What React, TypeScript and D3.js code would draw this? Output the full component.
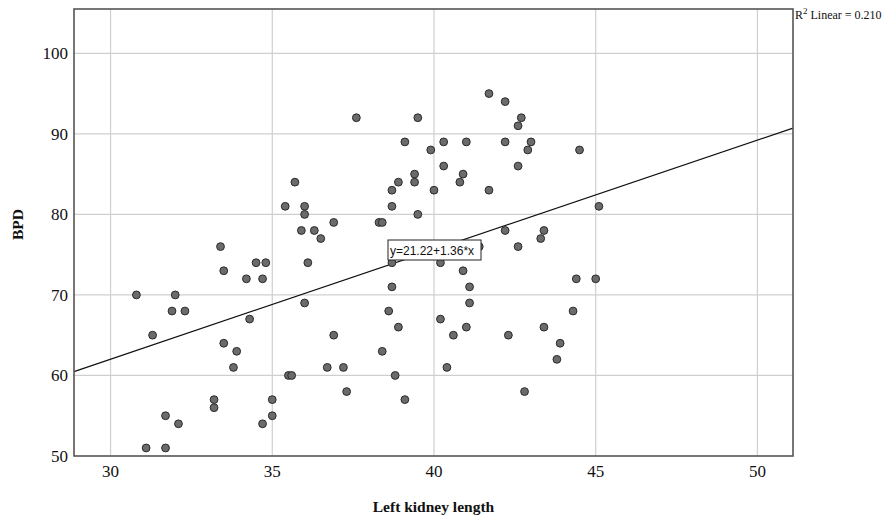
import React, { useEffect, useRef } from "react";
import * as d3 from "d3";

const leftKidneyLength: number[] = [
  30.8, 31.1, 31.3, 31.7, 31.7, 31.9, 32.0, 32.1, 32.3, 33.2, 33.2, 33.4, 33.5, 33.5, 33.8, 33.9,
  34.2, 34.3, 34.5, 34.7, 34.7, 34.8, 35.0, 35.0, 35.4, 35.5, 35.6, 35.7, 35.9, 36.0, 36.0, 36.0,
  36.1, 36.3, 36.5, 36.7, 36.9, 36.9, 37.2, 37.3, 37.6, 38.3, 38.4, 38.4, 38.6, 38.7, 38.7, 38.7,
  38.7, 38.8, 38.9, 38.9, 39.1, 39.1, 39.4, 39.4, 39.5, 39.5, 39.9, 40.0, 40.2, 40.2, 40.3, 40.3,
  40.4, 40.6, 40.8, 40.9, 40.9, 41.0, 41.0, 41.1, 41.1, 41.4, 41.7, 41.7, 42.2, 42.2, 42.2, 42.3,
  42.6, 42.6, 42.6, 42.7, 42.8, 42.9, 43.0, 43.3, 43.4, 43.4, 43.8, 43.9, 44.3, 44.4, 44.5, 45.0,
  45.1,
];
const bpd: number[] = [
  70, 51, 65, 55, 51, 68, 70, 54, 68, 57, 56, 76, 73, 64, 61, 63,
  72, 67, 74, 72, 54, 74, 57, 55, 81, 60, 60, 84, 78, 81, 80, 69,
  74, 78, 77, 61, 79, 65, 61, 58, 92, 79, 79, 63, 68, 83, 81, 74,
  71, 60, 84, 66, 89, 57, 85, 84, 92, 80, 88, 83, 74, 67, 89, 86,
  61, 65, 84, 73, 85, 89, 66, 71, 69, 76, 95, 83, 94, 89, 78, 65,
  91, 86, 76, 92, 58, 88, 89, 77, 78, 66, 62, 64, 68, 72, 88, 72,
  81,
];
const xTicks: number[] = [30, 35, 40, 45, 50];
const yTicks: number[] = [50, 60, 70, 80, 90, 100];
const fitIntercept = 21.22;
const fitSlope = 1.36;
const rSquared = "0.210";

const W = 887;
const H = 520;
const plot = { left: 74, right: 793, top: 9, bottom: 456 };

export default function App() {
  const ref = useRef<SVGSVGElement | null>(null);

  useEffect(() => {
    const svg = d3.select(ref.current);
    svg.selectAll("*").remove();

    const x = d3.scaleLinear().domain([28.87, 51.1]).range([plot.left, plot.right]);
    const y = d3.scaleLinear().domain([50, 105.5]).range([plot.bottom, plot.top]);

    const serif = "'Liberation Serif', 'Times New Roman', serif";

    svg.append("rect").attr("width", W).attr("height", H).attr("fill", "#fff");

    // grid
    const g = svg.append("g");
    g.selectAll("line.vx")
      .data(xTicks)
      .enter()
      .append("line")
      .attr("x1", (d) => x(d))
      .attr("x2", (d) => x(d))
      .attr("y1", plot.top)
      .attr("y2", plot.bottom)
      .attr("stroke", "#cfcfcf")
      .attr("stroke-width", 1.2);
    g.selectAll("line.hy")
      .data(yTicks.filter((d) => d > 50))
      .enter()
      .append("line")
      .attr("x1", plot.left)
      .attr("x2", plot.right)
      .attr("y1", (d) => y(d))
      .attr("y2", (d) => y(d))
      .attr("stroke", "#cfcfcf")
      .attr("stroke-width", 1.2);

    // fit line
    const [x0, x1] = x.domain();
    svg
      .append("line")
      .attr("x1", x(x0))
      .attr("y1", y(fitIntercept + fitSlope * x0))
      .attr("x2", x(x1))
      .attr("y2", y(fitIntercept + fitSlope * x1))
      .attr("stroke", "#111")
      .attr("stroke-width", 1.2);

    // points
    const pts = leftKidneyLength.map((v, i) => ({ x: v, y: bpd[i] }));
    svg
      .append("g")
      .selectAll("circle")
      .data(pts)
      .enter()
      .append("circle")
      .attr("cx", (d) => x(d.x))
      .attr("cy", (d) => y(d.y))
      .attr("r", 3.9)
      .attr("fill", "#6b6b6b")
      .attr("stroke", "#2a2a2a")
      .attr("stroke-width", 1);

    // frame
    svg
      .append("rect")
      .attr("x", plot.left)
      .attr("y", plot.top)
      .attr("width", plot.right - plot.left)
      .attr("height", plot.bottom - plot.top)
      .attr("fill", "none")
      .attr("stroke", "#555")
      .attr("stroke-width", 1.6);

    // equation label
    const eq = svg.append("g");
    eq.append("rect")
      .attr("x", 388)
      .attr("y", 240)
      .attr("width", 93)
      .attr("height", 20)
      .attr("fill", "#fff")
      .attr("stroke", "#222")
      .attr("stroke-width", 1);
    eq.append("text")
      .attr("x", 390)
      .attr("y", 255)
      .attr("font-family", "'Liberation Sans', Arial, sans-serif")
      .attr("font-size", 12)
      .attr("fill", "#111")
      .text(`y=${fitIntercept.toFixed(2)}+${fitSlope.toFixed(2)}*x`);

    // R2 label
    const r2 = svg
      .append("text")
      .attr("x", 795)
      .attr("y", 19)
      .attr("font-family", serif)
      .attr("font-size", 12)
      .attr("fill", "#111");
    r2.append("tspan").text("R");
    r2.append("tspan").attr("dy", -5).attr("font-size", 9).text("2");
    r2.append("tspan").attr("dy", 5).text(` Linear = ${rSquared}`);

    // tick labels
    svg
      .append("g")
      .selectAll("text")
      .data(xTicks)
      .enter()
      .append("text")
      .attr("x", (d) => x(d))
      .attr("y", 477)
      .attr("text-anchor", "middle")
      .attr("font-family", serif)
      .attr("font-size", 17)
      .attr("fill", "#111")
      .text((d) => d3.format("d")(d));
    svg
      .append("g")
      .selectAll("text")
      .data(yTicks)
      .enter()
      .append("text")
      .attr("x", 68)
      .attr("y", (d) => y(d) + 6)
      .attr("text-anchor", "end")
      .attr("font-family", serif)
      .attr("font-size", 17)
      .attr("fill", "#111")
      .text((d) => d3.format("d")(d));

    // axis titles
    svg
      .append("text")
      .attr("x", (plot.left + plot.right) / 2)
      .attr("y", 512)
      .attr("text-anchor", "middle")
      .attr("font-family", serif)
      .attr("font-weight", "bold")
      .attr("font-size", 15.5)
      .attr("fill", "#111")
      .text("Left kidney length");
    svg
      .append("text")
      .attr("transform", `translate(23, ${(plot.top + plot.bottom) / 2 - 8}) rotate(-90)`)
      .attr("text-anchor", "middle")
      .attr("font-family", serif)
      .attr("font-weight", "bold")
      .attr("font-size", 15.5)
      .attr("fill", "#111")
      .text("BPD");
  }, []);

  return (
    <svg
      ref={ref}
      width={W}
      height={H}
      style={{ position: "absolute", left: 0, top: 0, display: "block" }}
    />
  );
}
